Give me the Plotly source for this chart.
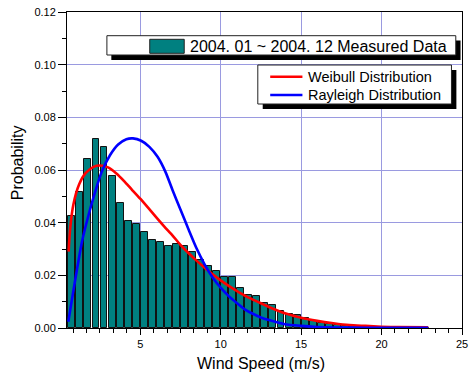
import plotly.graph_objects as go

# ---------------- data ----------------
bin_centers = [0.75, 1.25, 1.75, 2.25, 2.75, 3.25, 3.75, 4.25, 4.75, 5.25,
               5.75, 6.25, 6.75, 7.25, 7.75, 8.25, 8.75, 9.25, 9.75, 10.25,
               10.75, 11.25, 11.75, 12.25, 12.75, 13.25, 13.75, 14.25, 14.75, 15.25,
               15.75, 16.25, 16.75, 17.25, 17.75, 18.25, 18.75, 19.25, 19.75, 20.25,
               20.75, 21.25, 21.75, 22.25, 22.75]
measured = [0.0425, 0.0516, 0.0641, 0.0716, 0.0686, 0.0578, 0.0473, 0.0407, 0.0395, 0.0364,
            0.0333, 0.0326, 0.0312, 0.0319, 0.0311, 0.0290, 0.0258, 0.0235, 0.0215, 0.0195,
            0.0192, 0.0151, 0.0125, 0.0123, 0.0095, 0.0087, 0.0066, 0.0052, 0.0049, 0.0037,
            0.0028, 0.0020, 0.0014, 0.0011, 0.0009, 0.0006, 0.0004, 0.0003, 0.0003, 0.0002,
            0.0002, 0.0001, 0.0001, 0.0001, 0.0001]

weibull_x = [0.55, 0.65, 0.85, 1.2, 1.6, 2.1, 2.5, 3.0, 3.5, 4.0, 4.5, 5.0, 5.5, 6.0, 6.5,
             7.0, 7.5, 8.0, 8.5, 9.0, 9.5, 10.0, 10.5, 11.0, 11.5, 12.0, 12.5, 13.0, 14.0,
             15.0, 16.0, 17.0, 18.0, 19.0, 20.0, 21.0, 22.9]
weibull_y = [0.0290, 0.0380, 0.0470, 0.0545, 0.0588, 0.0612, 0.0617, 0.0610, 0.0588, 0.0558,
             0.0524, 0.0491, 0.0456, 0.0420, 0.0385, 0.0352, 0.0316, 0.0285, 0.0256, 0.0229,
             0.0204, 0.0181, 0.0160, 0.0141, 0.0123, 0.0108, 0.0094, 0.0080, 0.0056, 0.0039,
             0.0027, 0.0018, 0.0011, 0.0008, 0.0005, 0.0004, 0.0003]

rayleigh_x = [0.53, 0.77, 1.08, 1.38, 1.79, 2.2, 2.61, 3.12, 3.63, 4.14, 4.55, 5.06, 5.57,
              6.08, 6.59, 7.0, 7.5, 8.0, 8.5, 9.0, 9.5, 10.0, 10.5, 11.0, 11.5, 12.0, 12.5,
              13.0, 14.0, 15.0, 16.0, 17.0, 19.0, 22.9]
rayleigh_y = [0.0024, 0.0113, 0.0226, 0.0327, 0.0429, 0.0517, 0.0593, 0.0656, 0.0697, 0.0717,
              0.0720, 0.0711, 0.0688, 0.0650, 0.0590, 0.0525, 0.0450, 0.0375, 0.0303, 0.0242,
              0.0192, 0.0153, 0.0121, 0.0095, 0.0071, 0.0054, 0.0040, 0.0030, 0.0014, 0.0008,
              0.0004, 0.0002, 0.0001, 0.0001]

bar_label = "2004. 01 ~ 2004. 12 Measured Data"
weibull_label = "Weibull Distribution"
rayleigh_label = "Rayleigh Distribution"
x_title = "Wind Speed (m/s)"
y_title = "Probability"
x_ticks = [5, 10, 15, 20, 25]

# ---------------- style ----------------
W, H = 473, 375
ML, MR, MT, MB = 67, 5, 12, 47
PW, PH = W - ML - MR, H - MT - MB
TEAL = "#008080"
RED = "#ff0000"
BLUE = "#0000ff"
GRID = "#9a9ae0"
FONT = "Liberation Sans, Arial, sans-serif"


def px(x):
    return (x - ML) / PW


def py(y):
    return (MT + PH - y) / PH


fig = go.Figure()
fig.add_trace(go.Bar(x=bin_centers, y=measured, width=0.43,
                     marker=dict(color=TEAL, line=dict(color="#111111", width=1)),
                     name=bar_label, showlegend=False))
fig.add_trace(go.Scatter(x=weibull_x, y=weibull_y, mode="lines",
                         line=dict(color=RED, width=2.6, shape="spline", smoothing=0.6),
                         name=weibull_label, showlegend=False))
fig.add_trace(go.Scatter(x=rayleigh_x, y=rayleigh_y, mode="lines",
                         line=dict(color=BLUE, width=2.6, shape="spline", smoothing=0.6),
                         name=rayleigh_label, showlegend=False))

shapes = []
annotations = []


def rect(x0, y0, x1, y1, fill, line_color=None, lw=1):
    shapes.append(dict(type="rect", xref="paper", yref="paper",
                       x0=px(x0), x1=px(x1), y0=py(y1), y1=py(y0),
                       fillcolor=fill,
                       line=dict(color=line_color or fill, width=lw if line_color else 0),
                       layer="above"))


# legend 1 (bars)
rect(112, 40.5, 466.5, 60, "black")
rect(107.5, 35.7, 461.7, 55, "white", "#222222", 1)
rect(151, 39.3, 186, 53.3, TEAL, "#222222", 1)
annotations.append(dict(xref="paper", yref="paper", x=px(190), y=py(46), xanchor="left",
                        yanchor="middle", text=bar_label, showarrow=False,
                        font=dict(family=FONT, size=16, color="black")))
# legend 2 (lines)
rect(265.7, 70, 462.3, 109, "black")
rect(260.7, 65, 457.3, 104, "white", "#222222", 1)
for yy, col, lab in [(76.7, RED, weibull_label), (95, BLUE, rayleigh_label)]:
    shapes.append(dict(type="line", xref="paper", yref="paper", x0=px(273.3), x1=px(306),
                       y0=py(yy), y1=py(yy), line=dict(color=col, width=2.6), layer="above"))
    annotations.append(dict(xref="paper", yref="paper", x=px(310), y=py(yy), xanchor="left",
                            yanchor="middle", text=lab, showarrow=False,
                            font=dict(family=FONT, size=14.5, color="black")))

annotations.append(dict(xref="paper", yref="paper", x=px(263.5), y=py(363), xanchor="center",
                        yanchor="middle", text=x_title, showarrow=False,
                        font=dict(family=FONT, size=16, color="black")))
annotations.append(dict(xref="paper", yref="paper", x=px(17), y=py(162.5), xanchor="center",
                        yanchor="middle", text=y_title, showarrow=False, textangle=-90,
                        font=dict(family=FONT, size=16, color="black")))

fig.update_layout(
    width=W, height=H,
    margin=dict(l=ML, r=MR, t=MT, b=MB, pad=0),
    paper_bgcolor="white", plot_bgcolor="white",
    font=dict(family=FONT, size=11, color="black"),
    bargap=0,
    shapes=shapes, annotations=annotations,
    xaxis=dict(range=[0.45, 25.0001], tickvals=x_ticks, ticks="outside", ticklen=6,
               tickcolor="black", tickwidth=1, ticklabeloverflow="allow",
               showline=True, linecolor="black", linewidth=1, mirror=True,
               showgrid=True, gridcolor=GRID, gridwidth=1, zeroline=False,
               tickfont=dict(family=FONT, size=11, color="black"),
               minor=dict(tick0=0, dtick=5/6, ticks="outside", ticklen=4,
                          tickcolor="black", showgrid=False)),
    yaxis=dict(range=[0, 0.12], dtick=0.02, tickformat=".2f", ticks="outside", ticklen=8,
               tickcolor="black", tickwidth=1, ticklabeloverflow="allow",
               showline=True, linecolor="black", linewidth=1, mirror=True,
               showgrid=True, gridcolor=GRID, gridwidth=1, zeroline=False,
               tickfont=dict(family=FONT, size=11, color="black"),
               minor=dict(dtick=0.01, ticks="outside", ticklen=4,
                          tickcolor="black", showgrid=False)),
)

fig.write_html("out.html")
